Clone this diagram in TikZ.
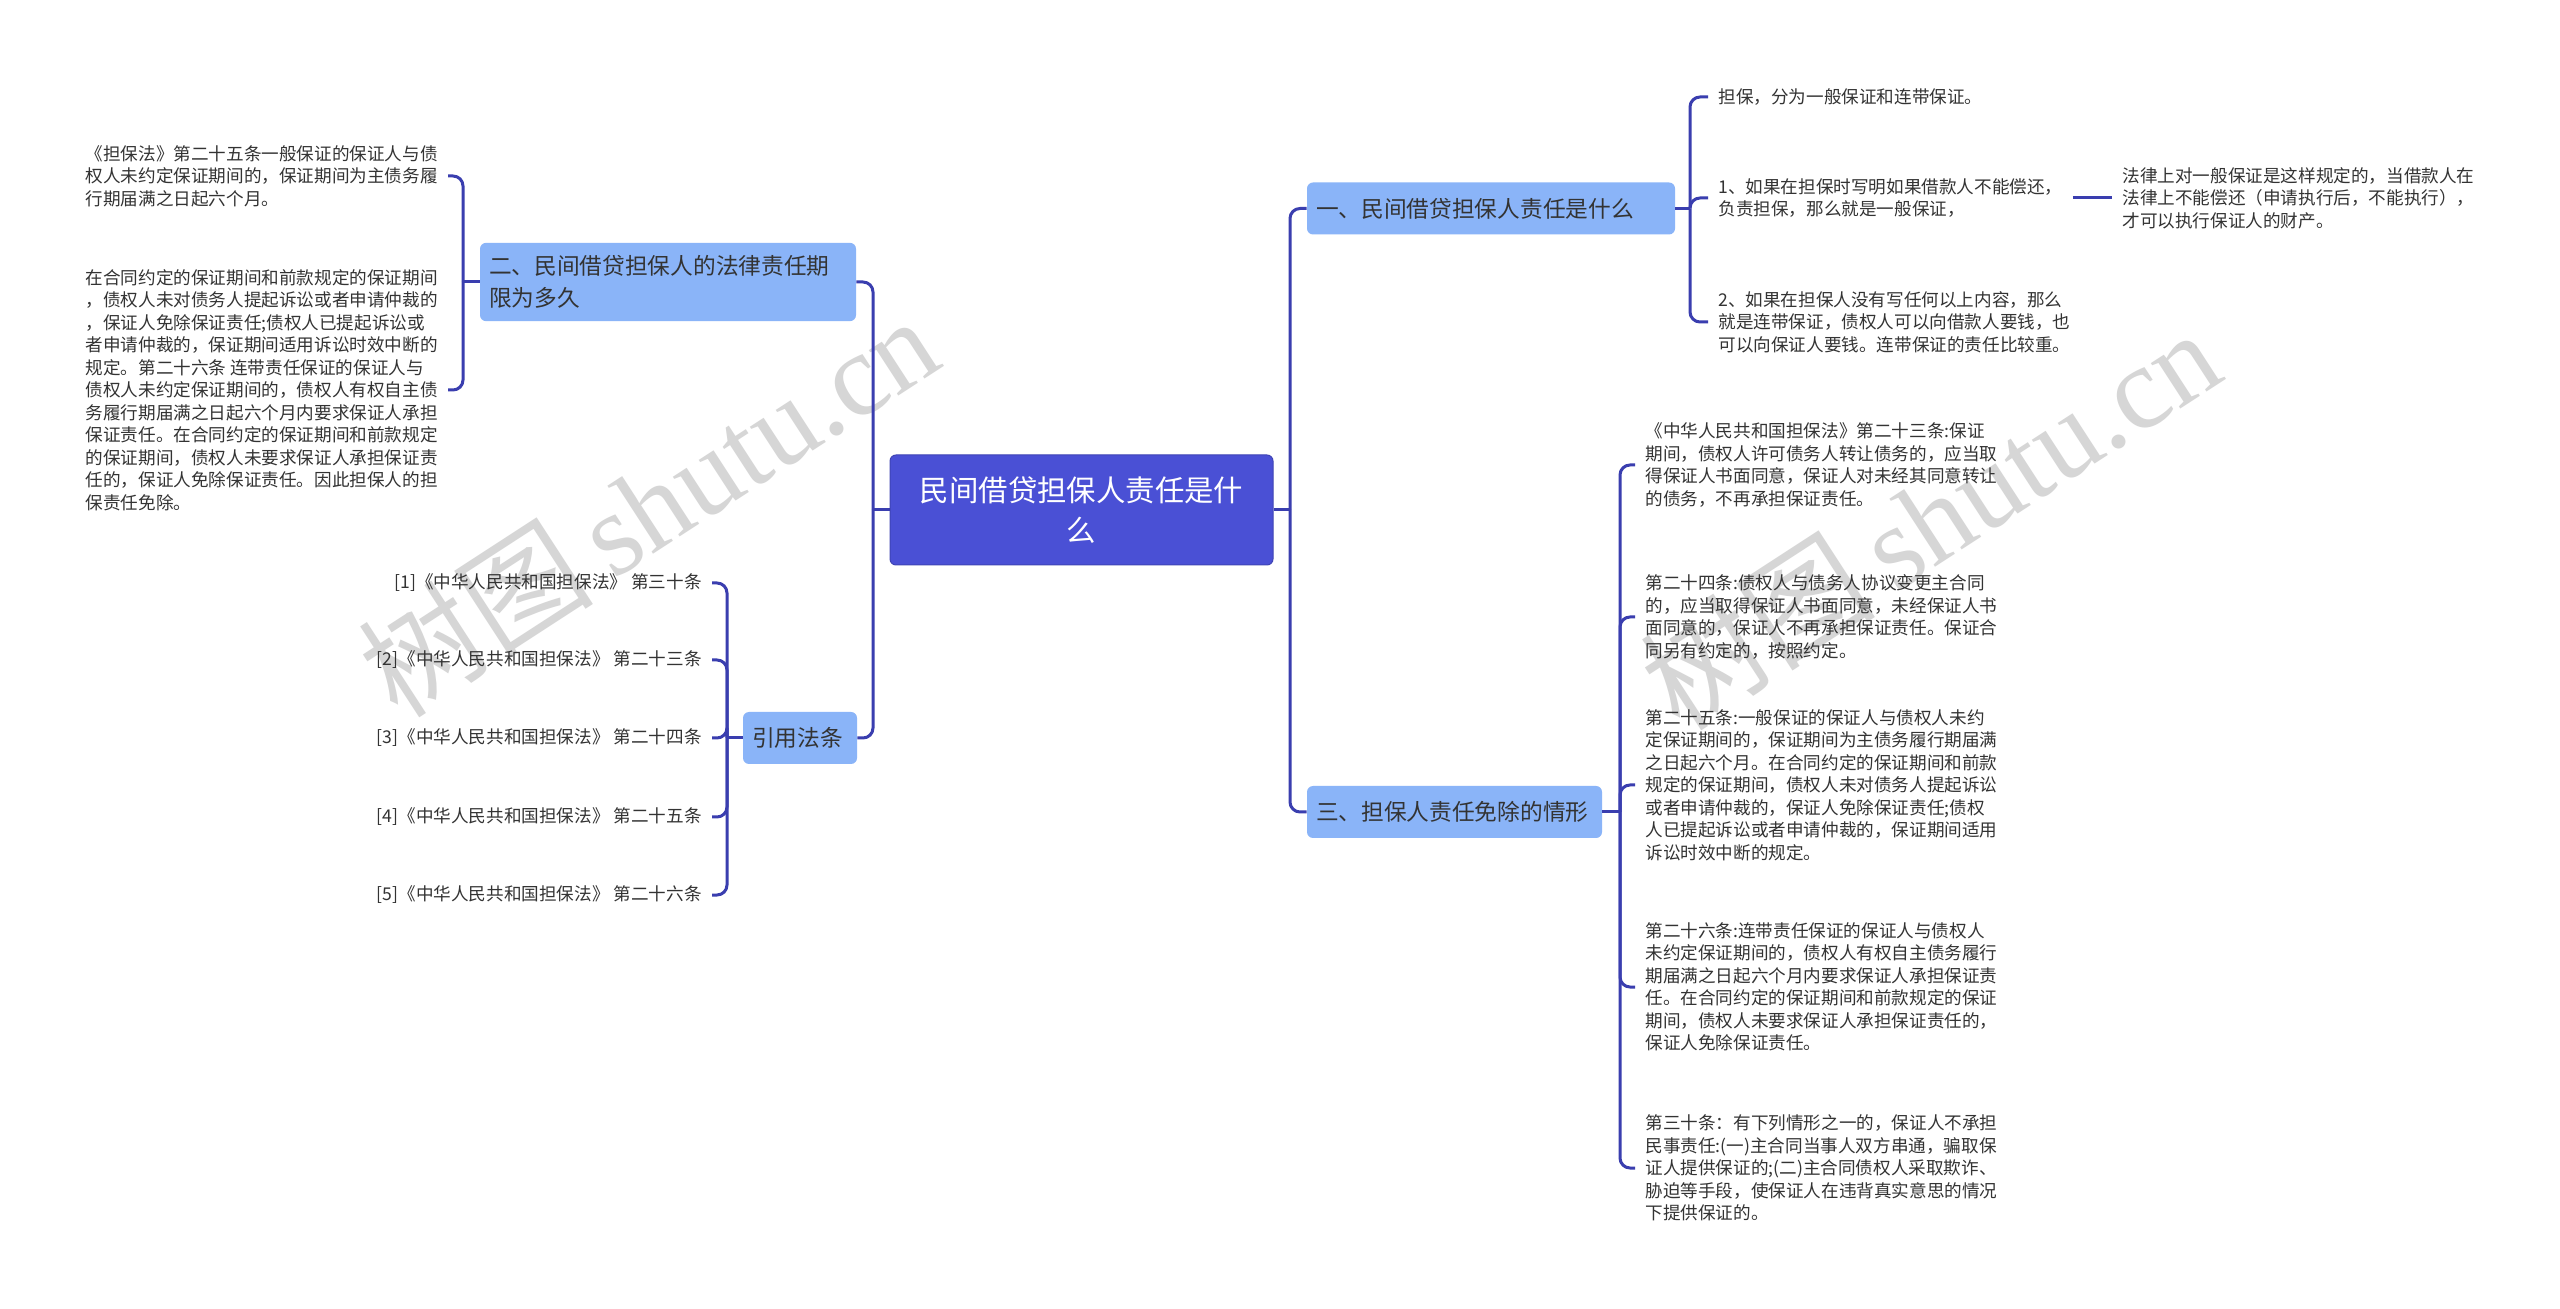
\documentclass[tikz,border=0pt]{standalone}
\usepackage{fontspec}
\setmainfont{Noto Sans CJK SC}
\newfontfamily\wmfont{Liberation Serif}
\definecolor{rootBlue}{RGB}{74, 80, 213}
\definecolor{branchBlue}{RGB}{138, 180, 248}
\definecolor{linkBlue}{RGB}{58, 62, 175}
\definecolor{noteGray}{RGB}{51, 51, 51}
\usepackage{tikz}
\usetikzlibrary{positioning}

\begin{document}
\begin{tikzpicture}[
      x=0.5pt, y=-0.5pt,
      every node/.style={font=\fontsize{8.8}{11.25}\selectfont},
      rootbox/.style={rectangle, draw=rootBlue!85!black, fill=rootBlue, text=white, rounded corners=3pt, line width=0.5pt, align=center, minimum width=191.5pt, minimum height=55pt, font=\fontsize{14.7}{20}\selectfont},
      branchbox/.style={rectangle, fill=branchBlue, rounded corners=3pt, align=left, inner xsep=4.5pt, inner ysep=6.3pt, minimum height=26pt, text=noteGray, font=\fontsize{11.35}{16}\selectfont},
      leafnote/.style={align=left, inner xsep=5pt, inner ysep=0pt, text=noteGray},
      conn/.style={line width=1.5pt, color=linkBlue, rounded corners=5pt},
      wmark/.style={rotate=33, text=black!16, font=\fontsize{59}{59}\selectfont}
    ]
      \fill[white] (0,0) rectangle (2560,1309);
      \useasboundingbox (0,0) rectangle (2560,1309);

      % Watermarks
      \node[wmark] (wmL) at (648,505) {树图\,{\wmfont shutu.cn}};
      \node[wmark] (wmR) at (1930,518) {树图\,{\wmfont shutu.cn}};

      % Centre and main branches
      \node[rootbox] (root) at (1081.5,510) {民间借贷担保人责任是什\\么};
      \node[branchbox, text width=175pt] (br1) at (1491,208.5) {一、民间借贷担保人责任是什么};
      \node[branchbox, text width=179pt] (br2) at (668,282) {二、民间借贷担保人的法律责任期\\限为多久};
      \node[branchbox, text width=48pt] (br3) at (800,738) {引用法条};
      \node[branchbox, text width=138.5pt] (br4) at (1454.5,812) {三、担保人责任免除的情形};

      % Branch 1 notes
      \node[leafnote, anchor=west] (n1a) at (1708,97) {担保，分为一般保证和连带保证。};
      \node[leafnote, anchor=west] (n1b) at (1708,198) {1、如果在担保时写明如果借款人不能偿还，\\负责担保，那么就是一般保证，};
      \node[leafnote, anchor=west] (n1c) at (1708,322) {2、如果在担保人没有写任何以上内容，那么\\就是连带保证，债权人可以向借款人要钱，也\\可以向保证人要钱。连带保证的责任比较重。};
      \node[leafnote, anchor=west] (n1bx) at (2112,198) {法律上对一般保证是这样规定的，当借款人在\\法律上不能偿还（申请执行后，不能执行），\\才可以执行保证人的财产。};

      % Branch 2 notes
      \node[leafnote, anchor=east] (n2a) at (448,176) {《担保法》第二十五条一般保证的保证人与债\\权人未约定保证期间的，保证期间为主债务履\\行期届满之日起六个月。};
      \node[leafnote, anchor=east] (n2b) at (448,390) {在合同约定的保证期间和前款规定的保证期间\\，债权人未对债务人提起诉讼或者申请仲裁的\\，保证人免除保证责任;债权人已提起诉讼或\\者申请仲裁的，保证期间适用诉讼时效中断的\\规定。第二十六条 连带责任保证的保证人与\\债权人未约定保证期间的，债权人有权自主债\\务履行期届满之日起六个月内要求保证人承担\\保证责任。在合同约定的保证期间和前款规定\\的保证期间，债权人未要求保证人承担保证责\\任的，保证人免除保证责任。因此担保人的担\\保责任免除。};

      % Cited articles
      \node[leafnote, anchor=east] (ref1) at (712,583) {[1]《中华人民共和国担保法》 第三十条};
      \node[leafnote, anchor=east] (ref2) at (712,660) {[2]《中华人民共和国担保法》 第二十三条};
      \node[leafnote, anchor=east] (ref3) at (712,738) {[3]《中华人民共和国担保法》 第二十四条};
      \node[leafnote, anchor=east] (ref4) at (712,817) {[4]《中华人民共和国担保法》 第二十五条};
      \node[leafnote, anchor=east] (ref5) at (712,895) {[5]《中华人民共和国担保法》 第二十六条};

      % Branch 3 notes
      \node[leafnote, anchor=west] (n4a) at (1635,465) {《中华人民共和国担保法》第二十三条:保证\\期间，债权人许可债务人转让债务的，应当取\\得保证人书面同意，保证人对未经其同意转让\\的债务，不再承担保证责任。};
      \node[leafnote, anchor=west] (n4b) at (1635,617) {第二十四条:债权人与债务人协议变更主合同\\的，应当取得保证人书面同意，未经保证人书\\面同意的，保证人不再承担保证责任。保证合\\同另有约定的，按照约定。};
      \node[leafnote, anchor=west] (n4c) at (1635,785) {第二十五条:一般保证的保证人与债权人未约\\定保证期间的，保证期间为主债务履行期届满\\之日起六个月。在合同约定的保证期间和前款\\规定的保证期间，债权人未对债务人提起诉讼\\或者申请仲裁的，保证人免除保证责任;债权\\人已提起诉讼或者申请仲裁的，保证期间适用\\诉讼时效中断的规定。};
      \node[leafnote, anchor=west] (n4d) at (1635,987) {第二十六条:连带责任保证的保证人与债权人\\未约定保证期间的，债权人有权自主债务履行\\期届满之日起六个月内要求保证人承担保证责\\任。在合同约定的保证期间和前款规定的保证\\期间，债权人未要求保证人承担保证责任的，\\保证人免除保证责任。};
      \node[leafnote, anchor=west] (n4e) at (1635,1168) {第三十条：有下列情形之一的，保证人不承担\\民事责任:(一)主合同当事人双方串通，骗取保\\证人提供保证的;(二)主合同债权人采取欺诈、\\胁迫等手段，使保证人在违背真实意思的情况\\下提供保证的。};

      % Junctions
      \coordinate (jL) at (873,510);
      \coordinate (jR) at (1290,510);
      \coordinate (j1) at (1690,208.5);
      \coordinate (j2) at (463,282);
      \coordinate (j3) at (727,738);
      \coordinate (j4) at (1620,812);

      % Connectors
      \draw[conn] (root.west) -- (jL);
      \draw[conn] (root.east) -- (jR);
      \foreach \b in {br2,br3} \draw[conn] (jL) |- (\b.east);
      \foreach \b in {br1,br4} \draw[conn] (jR) |- (\b.west);
      \draw[conn] (br1.east) -- (j1);
      \foreach \n in {n1a,n1b,n1c} \draw[conn] (j1) |- (\n.west);
      \draw[conn] (n1b.east) -- (n1bx.west);
      \draw[conn] (br2.west) -- (j2);
      \foreach \n in {n2a,n2b} \draw[conn] (j2) |- (\n.east);
      \draw[conn] (br3.west) -- (j3);
      \foreach \n in {ref1,ref2,ref3,ref4,ref5} \draw[conn] (j3) |- (\n.east);
      \draw[conn] (br4.east) -- (j4);
      \foreach \n in {n4a,n4b,n4c,n4d,n4e} \draw[conn] (j4) |- (\n.west);
    \end{tikzpicture}
\end{document}
